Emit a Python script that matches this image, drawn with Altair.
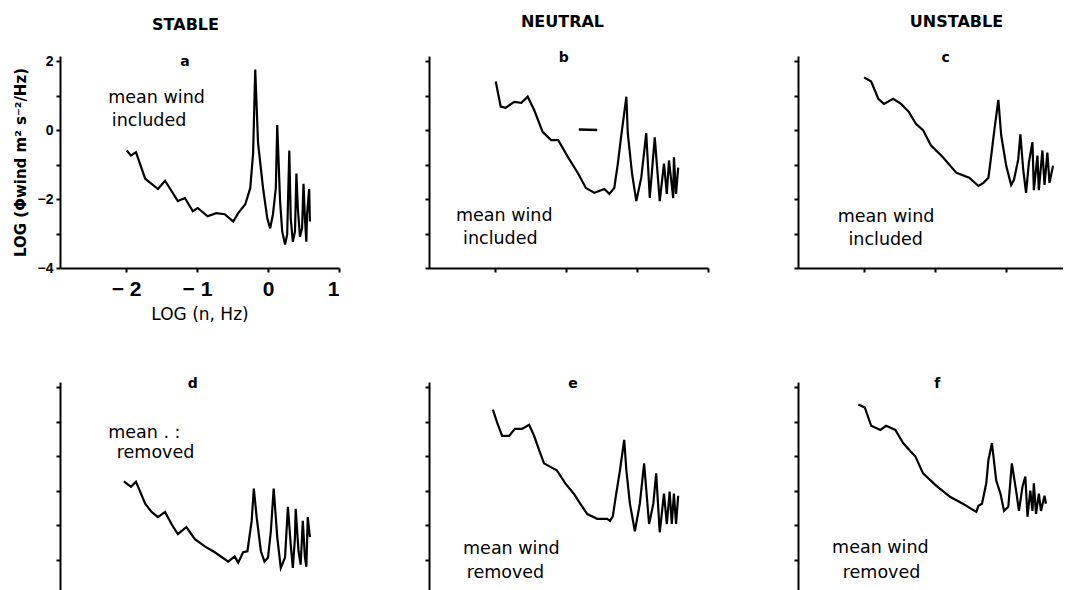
import altair as alt
import pandas as pd

FONT = "Liberation Sans"
WIDE = "DejaVu Sans"

# ---------------- data ----------------
A_X = [-1.99,-1.93,-1.86,-1.73,-1.55,-1.45,-1.27,-1.17,-1.06,-0.99,-0.85,-0.73,-0.61,-0.49,-0.42,-0.32,-0.25,-0.21,-0.18,-0.14,-0.07,-0.01,0.03,0.07,0.11,0.13,0.17,0.20,0.24,0.27,0.30,0.32,0.35,0.38,0.40,0.42,0.45,0.48,0.50,0.52,0.54,0.55,0.58,0.59]
A_Y = [-0.59,-0.74,-0.64,-1.41,-1.71,-1.47,-2.06,-1.97,-2.35,-2.26,-2.50,-2.41,-2.44,-2.65,-2.41,-2.15,-1.68,-0.68,1.76,-0.38,-1.68,-2.56,-2.85,-2.44,-1.68,0.15,-2.06,-2.94,-3.32,-3.03,-0.59,-2.56,-3.24,-2.94,-1.26,-2.26,-3.09,-2.85,-1.56,-2.56,-3.24,-2.44,-1.71,-2.65]

B_X = [-1.99,-1.92,-1.85,-1.73,-1.63,-1.54,-1.45,-1.33,-1.21,-1.11,-0.97,-0.83,-0.72,-0.60,-0.46,-0.39,-0.32,-0.27,-0.23,-0.15,-0.13,-0.07,-0.01,0.06,0.13,0.18,0.25,0.32,0.38,0.42,0.45,0.51,0.52,0.55,0.58]
B_Y = [1.41,0.68,0.65,0.82,0.79,0.97,0.59,-0.05,-0.29,-0.29,-0.79,-1.26,-1.68,-1.82,-1.71,-1.85,-1.68,-0.97,-0.29,0.97,-0.09,-1.26,-2.06,-1.38,-0.09,-1.97,-0.21,-2.06,-0.97,-1.85,-0.88,-1.97,-0.79,-1.85,-1.09]
B_DASH_X = [-0.82, -0.56]
B_DASH_Y = [0.02, 0.0]

C_X = [-2.00,-1.90,-1.80,-1.72,-1.59,-1.48,-1.37,-1.27,-1.17,-1.06,-0.89,-0.70,-0.52,-0.39,-0.32,-0.25,-0.21,-0.17,-0.11,-0.07,0.00,0.07,0.11,0.17,0.20,0.24,0.28,0.32,0.37,0.39,0.44,0.46,0.51,0.54,0.58,0.61,0.66]
C_Y = [1.53,1.41,0.91,0.76,0.91,0.76,0.53,0.18,0.00,-0.44,-0.79,-1.24,-1.38,-1.62,-1.53,-1.38,-0.74,-0.06,0.88,-0.15,-1.03,-1.59,-1.44,-0.85,-0.12,-1.15,-1.82,-0.94,-0.35,-1.74,-0.74,-1.74,-0.59,-1.59,-0.65,-1.53,-1.03]

D_X = [-2.03,-1.93,-1.86,-1.73,-1.64,-1.55,-1.45,-1.36,-1.27,-1.15,-1.03,-0.89,-0.75,-0.56,-0.47,-0.42,-0.35,-0.29,-0.23,-0.20,-0.16,-0.10,-0.05,0.00,0.04,0.08,0.13,0.18,0.24,0.28,0.32,0.35,0.38,0.39,0.43,0.46,0.49,0.52,0.54,0.56,0.59]
D_Y = [-0.73,-0.89,-0.74,-1.38,-1.62,-1.77,-1.62,-1.97,-2.26,-2.06,-2.41,-2.62,-2.79,-3.06,-2.91,-3.09,-2.79,-2.76,-1.88,-0.94,-1.77,-2.76,-3.06,-2.94,-2.18,-0.94,-2.35,-3.24,-2.94,-1.47,-2.56,-3.24,-2.35,-1.53,-2.76,-3.15,-1.88,-2.94,-3.21,-1.77,-2.35]

E_X = [-2.03,-1.97,-1.90,-1.80,-1.72,-1.62,-1.52,-1.45,-1.38,-1.31,-1.24,-1.13,-1.01,-0.89,-0.80,-0.70,-0.56,-0.42,-0.38,-0.34,-0.30,-0.24,-0.18,-0.15,-0.10,-0.03,0.04,0.10,0.17,0.23,0.27,0.32,0.38,0.42,0.46,0.49,0.52,0.55,0.58]
E_Y = [1.35,0.97,0.59,0.59,0.79,0.79,0.91,0.59,0.18,-0.21,-0.29,-0.41,-0.79,-1.09,-1.38,-1.68,-1.82,-1.82,-1.88,-1.74,-1.18,-0.41,0.47,-0.41,-1.38,-2.18,-1.38,-0.21,-1.97,-1.38,-0.50,-2.21,-1.09,-1.97,-1.03,-1.97,-1.09,-1.97,-1.15]

F_X = [-2.08,-1.99,-1.90,-1.77,-1.69,-1.56,-1.45,-1.35,-1.28,-1.17,-0.99,-0.79,-0.61,-0.42,-0.39,-0.34,-0.28,-0.25,-0.20,-0.14,-0.08,-0.03,0.03,0.08,0.14,0.18,0.23,0.27,0.30,0.34,0.37,0.39,0.42,0.46,0.49,0.54,0.56]
F_Y = [1.50,1.41,0.88,0.76,0.88,0.76,0.38,0.15,0.00,-0.50,-0.85,-1.18,-1.38,-1.62,-1.44,-1.38,-0.79,-0.12,0.38,-0.71,-1.09,-1.59,-1.47,-0.21,-1.00,-1.59,-0.88,-0.59,-1.76,-1.00,-1.59,-0.79,-1.68,-1.09,-1.59,-1.15,-1.38]

HEADERS = ["STABLE", "NEUTRAL", "UNSTABLE"]
LETTERS = ["a", "b", "c", "d", "e", "f"]
Y_TITLE = "LOG (\u03a6wind m\u00b2 s\u207b\u00b2/Hz)"
X_TITLE = "LOG (n, Hz)"
X_TICKS = [-2, -1, 0, 1]
Y_TICKS = [-4, -3, -2, -1, 0, 1, 2]

# ---------------- layout settings ----------------
Y_DOM = [-4, 2.15]
X_DOM = [-2.93, 1.0]
X_DOM_R = [-2.93, 0.8]
W, W_R, H = 279, 265, 212


def frame(xs, ys):
    return pd.DataFrame([{"i": i, "x": x, "y": y} for i, (x, y) in enumerate(zip(xs, ys))])


def panel(xs, ys, letter, lpos, notes, xdom, width, full_axes=False,
          bottom=False, header=None, hdx=0, extra=None):
    xs_scale = alt.Scale(domain=xdom, nice=False, zero=False)
    ys_scale = alt.Scale(domain=Y_DOM, nice=False, zero=False)
    if full_axes:
        xaxis = alt.Axis(values=X_TICKS, title=X_TITLE, labelFontSize=21,
                         labelFontWeight="bold", labelPadding=6,
                         labelExpr="datum.value < 0 ? '\u2212 ' + abs(datum.value) : '' + datum.value",
                         titleFont=WIDE, titleFontSize=17, titleFontWeight="normal", titlePadding=7)
        yaxis = alt.Axis(values=Y_TICKS, title=Y_TITLE, labelFontSize=14,
                         labelFontWeight="bold", labelPadding=3,
                         labelExpr="datum.value % 2 == 0 ? datum.label : ''",
                         titleFont=WIDE, titleFontSize=15, titleFontWeight="bold", titlePadding=9)
    else:
        xaxis = alt.Axis(values=X_TICKS, title=None, labels=False, ticks=not bottom)
        yaxis = alt.Axis(values=Y_TICKS, title=None, labels=False)

    def enc(ch):
        return ch.encode(x=alt.X("x:Q", scale=xs_scale, axis=xaxis),
                         y=alt.Y("y:Q", scale=ys_scale, axis=yaxis))

    line = enc(alt.Chart(frame(xs, ys)).mark_line(color="black", strokeWidth=2.2)).encode(order="i:Q")
    layers = [line]
    if extra is not None:
        layers.append(enc(alt.Chart(frame(*extra)).mark_line(color="black", strokeWidth=2.5)).encode(order="i:Q"))
    lab = pd.DataFrame([{"x": lpos[0], "y": lpos[1], "t": letter}])
    layers.append(enc(alt.Chart(lab).mark_text(font=WIDE, fontSize=14, fontWeight="bold",
                                               color="black", baseline="middle")).encode(text="t:N"))
    nd = pd.DataFrame([{"x": n[0], "y": n[1], "t": n[2]} for n in notes])
    layers.append(enc(alt.Chart(nd).mark_text(font=WIDE, fontSize=17.5, color="black",
                                              align="left", baseline="middle")).encode(text="t:N"))
    props = dict(width=width, height=H)
    if header is not None:
        props["title"] = alt.TitleParams(header, font=WIDE, fontSize=16, fontWeight="bold",
                                         anchor="middle", offset=21, dx=hdx, color="black")
    return alt.layer(*layers).properties(**props)


pa = panel(A_X, A_Y, LETTERS[0], (-1.17, 1.98),
           [(-2.25, 0.94, "mean wind"), (-2.2, 0.25, "included")], X_DOM, W,
           full_axes=True, header=HEADERS[0], hdx=-14)
pb = panel(B_X, B_Y, LETTERS[1], (-1.03, 2.1),
           [(-2.55, -2.5, "mean wind"), (-2.45, -3.15, "included")], X_DOM, W,
           header=HEADERS[1], hdx=-6, extra=(B_DASH_X, B_DASH_Y))
pc = panel(C_X, C_Y, LETTERS[2], (-0.85, 2.1),
           [(-2.37, -2.53, "mean wind"), (-2.22, -3.18, "included")], X_DOM_R, W_R,
           header=HEADERS[2], hdx=26)
pd_ = panel(D_X, D_Y, LETTERS[3], (-1.06, 2.1),
            [(-2.25, 0.67, "mean  .    :"), (-2.13, 0.08, "removed")], X_DOM, W, bottom=True)
pe = panel(E_X, E_Y, LETTERS[4], (-0.9, 2.1),
           [(-2.45, -2.7, "mean wind"), (-2.4, -3.38, "removed")], X_DOM, W, bottom=True)
pf = panel(F_X, F_Y, LETTERS[5], (-0.97, 2.1),
           [(-2.45, -2.68, "mean wind"), (-2.3, -3.38, "removed")], X_DOM_R, W_R, bottom=True)

chart = alt.concat(pa, pb, pc, pd_, pe, pf, columns=3, bounds="flush",
                   spacing={"row": 114, "column": 90}).properties(
    padding={"left": 5, "top": 5, "right": 0, "bottom": 0},
    background="white",
).configure_view(strokeWidth=0).configure_axis(
    domainColor="black", domainWidth=2, tickColor="black", tickWidth=2, tickSize=4,
    labelColor="black", titleColor="black", labelFont=FONT, titleFont=FONT, grid=False
)

chart.save("out.html", embed_options={"renderer": "svg", "actions": False})
